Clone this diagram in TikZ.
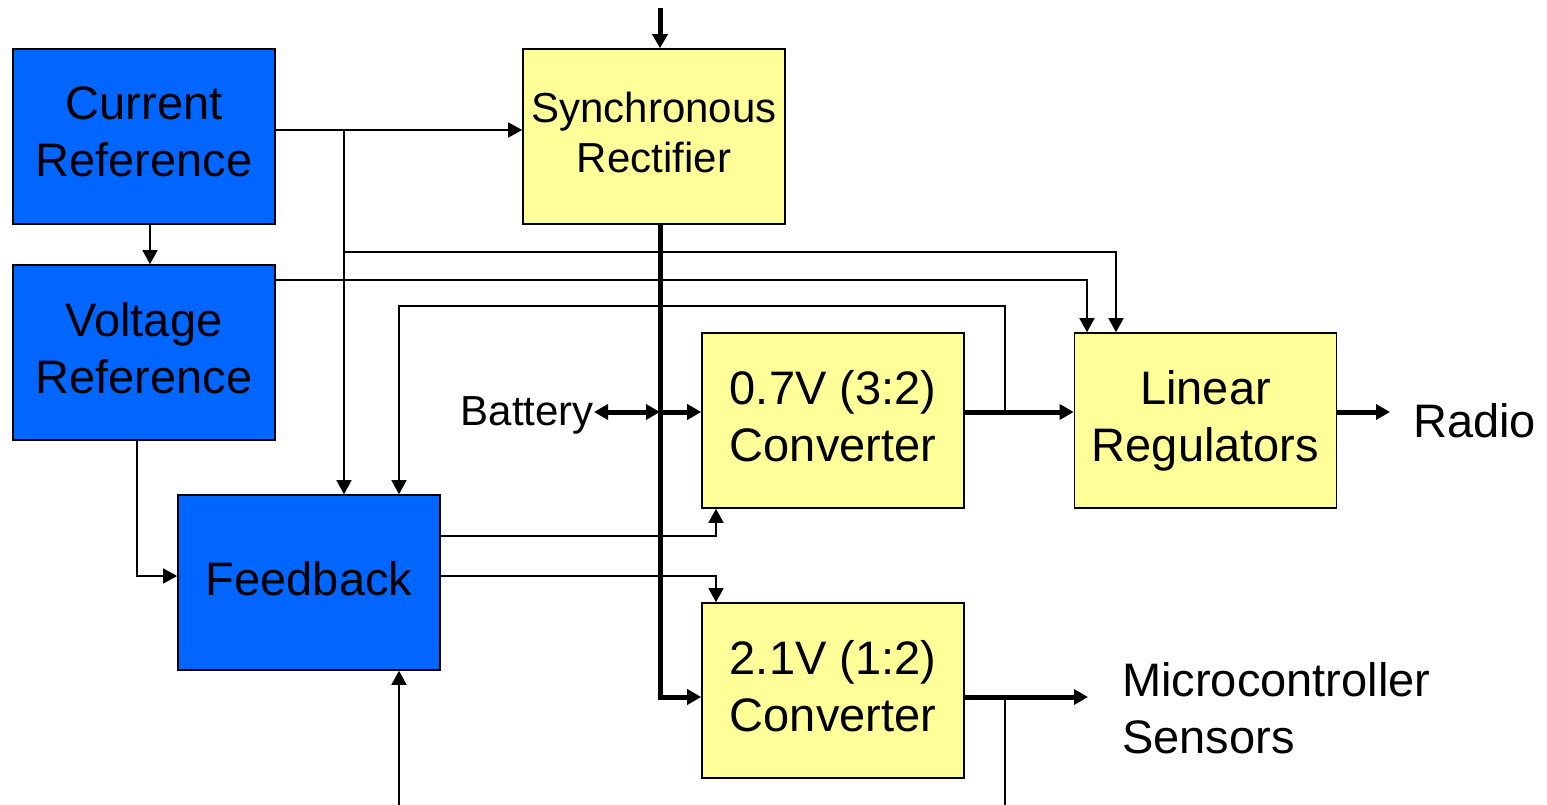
\documentclass[tikz,border=0pt]{standalone}
\usepackage{fontspec}
\setmainfont{Liberation Sans}
\usetikzlibrary{arrows.meta}

\definecolor{refblue}{RGB}{0,102,255}
\definecolor{convyellow}{RGB}{255,255,153}

\begin{document}
\begin{tikzpicture}[
    x=1pt, y=-1pt,
    every node/.style={font=\fontsize{47}{57}\selectfont, inner sep=0pt}
]

\tikzset{arr/.tip={Triangle[length=14pt,width=15pt]}}
\tikzset{blk/.style={rectangle, fill=#1, draw=black, line width=1.6pt,
                     minimum width=262pt, minimum height=175pt, align=center,
                     execute at end node={\rule[-9pt]{0pt}{9pt}}}}
\tikzset{sig/.style={line width=1.6pt, -arr}}
\tikzset{pwr/.style={line width=5pt, -arr}}

\useasboundingbox (0,0) rectangle (1547,805);

% ================= References & feedback =================

\node[blk=refblue] (cref) at (144,136.5) {Current\\Reference};
\node[blk=refblue] (vref) at (144,352.5) {Voltage\\Reference};
\node[blk=refblue] (fb)   at (309,582.5) {Feedback};

% ================= Power path =================

\node[blk=convyellow, font=\fontsize{42}{50}\selectfont] (sr) at (654,136.5) {Synchronous\\Rectifier};
\node[blk=convyellow] (c07) at (833,420.5)    {0.7V (3:2)\\Converter};
\node[blk=convyellow] (lr)  at (1205.5,420.5) {Linear\\Regulators};
\node[blk=convyellow] (c21) at (833,690.5)    {2.1V (1:2)\\Converter};

\node[anchor=base east, font=\fontsize{42}{50}\selectfont] (bat) at (594,425) {Battery};
\node[anchor=west, inner xsep=23pt] (radio) at (1390,421) {Radio};
\node[anchor=west, inner xsep=34pt, align=left] (mcu) at (1088,708.5) {Microcontroller\\Sensors};

% points libres
\coordinate (top) at (660,8);
\coordinate (j1)  at (344,130);
\coordinate (j2)  at (344,252);
\coordinate (jb)  at (660,412);
\coordinate (j3)  at (1005,412);
\coordinate (j4)  at (1005,697);
\coordinate (in)  at (399,805);
\coordinate (out) at (1005,805);

% ================= Connexions =================

\draw[pwr] (top) -- (sr.north -| top);
\draw[sig] (cref.east |- j1) -- (sr.west |- j1);
\draw[sig] (j1) -- (fb.north -| j1);
\draw[sig] (j2) -| ([xshift=-89.5pt]lr.north);
\draw[sig] ([yshift=72.5pt]vref.east) -| ([xshift=-118.5pt]lr.north);
\draw[sig] (j3) |- ([xshift=90pt,yshift=188pt]fb.north) -- ([xshift=90pt]fb.north);
\draw[sig] ([xshift=6pt]cref.south) -- ([xshift=6pt]vref.north);
\draw[sig] ([xshift=-7pt]vref.south) |- ([yshift=6.5pt]fb.west);
\draw[sig] ([yshift=46.5pt]fb.east) -| ([xshift=-117pt]c07.south);
\draw[sig] ([yshift=6.5pt]fb.east) -| ([xshift=-117pt]c21.north);
\draw[sig] (in) -- (fb.south -| in);

\draw[pwr] (sr.south -| top) |- ([yshift=-6.5pt]c21.west);
\draw[pwr, arr-arr] (bat.east |- jb) -- (jb);
\draw[pwr] (jb) -- (c07.west |- jb);
\draw[pwr] (c07.east |- jb) -- (lr.west |- jb);
\draw[pwr] (lr.east |- jb) -- (radio.west |- jb);
\draw[pwr] (c21.east |- j4) -- (mcu.west |- j4);
\draw[sig, -] (j4) -- (out);

\end{tikzpicture}
\end{document}
